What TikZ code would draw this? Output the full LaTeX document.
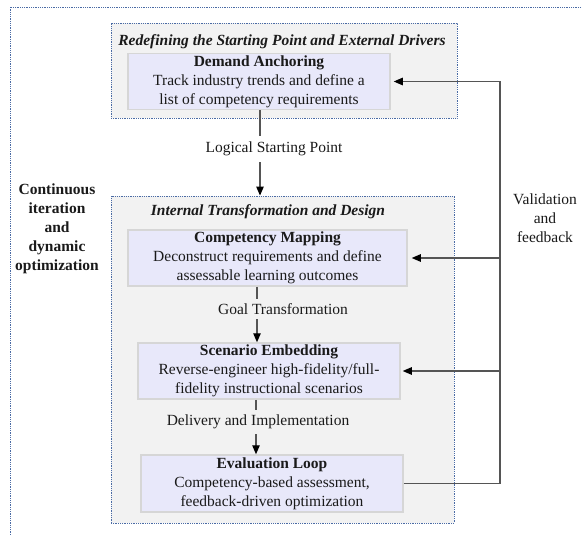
\documentclass[tikz,border=0pt]{standalone}
\usepackage{fontspec}
\setmainfont{Liberation Serif}
\usetikzlibrary{arrows.meta}
\definecolor{clfill}{HTML}{F2F2F2}
\definecolor{clborder}{HTML}{4A6BA5}
\definecolor{boxfill}{HTML}{E8E8FA}
\definecolor{boxborder}{HTML}{D6D6D6}
\definecolor{edgecol}{HTML}{555555}
\definecolor{txt}{HTML}{1A1A1A}
\begin{document}
\begin{tikzpicture}[x=1pt,y=-1pt,
  every node/.style={font=\fontsize{15.5}{19}\selectfont, text=txt},
  clline/.style={draw=clborder, line width=0.9pt, dash pattern=on 0.9pt off 0.9pt},
  cluster/.style={clline, fill=clfill, inner sep=0pt},
  stagebox/.style={draw=boxborder, fill=boxfill, line width=1.5pt, align=center, inner sep=0pt, minimum height=56pt, minimum width=262pt},
  edge/.style={draw=edgecol, line width=1.1pt},
  arr/.style={edge, -{Triangle[length=9pt,width=7.5pt,color=black]}},
  elab/.style={inner xsep=2pt, inner ysep=6pt},
  cltitle/.style={font=\fontsize{15.5}{19}\selectfont\bfseries\itshape}
]
\useasboundingbox (0,0) rectangle (582,535);
\fill[white] (0,0) rectangle (582,535);
% outer frame
\draw[clline] (10,535) -- (10,7) -- (582,7);
% clusters
\node[cluster, minimum width=346pt, minimum height=95pt] (outer) at (284,70.5) {};
\node[cluster, minimum width=343pt, minimum height=327pt] (inner) at (282.5,359.5) {};
\node[cltitle] (t1) at (282,42) {Redefining the Starting Point and External Drivers};
\node[cltitle] (t2) at (268,212) {Internal Transformation and Design};
% stage boxes
\node[stagebox] (demand) at (259,81.5) {\textbf{Demand Anchoring}\\Track industry trends and define a\\list of competency requirements};
\node[stagebox, minimum width=279pt] (comp) at (267.5,258) {\textbf{Competency Mapping}\\Deconstruct requirements and define\\assessable learning outcomes};
\node[stagebox] (scen) at (269,371) {\textbf{Scenario Embedding}\\Reverse-engineer high-fidelity/full-\\fidelity instructional scenarios};
\node[stagebox, minimum height=57pt] (eval) at (272,483.5) {\textbf{Evaluation Loop}\\Competency-based assessment,\\feedback-driven optimization};
% side labels
\node[align=center, font=\fontsize{15.5}{19}\selectfont\bfseries] (cont) at (57,228.5) {Continuous\\iteration\\and\\dynamic\\optimization};
\node[align=center] (valid) at (545,218.5) {Validation\\and\\feedback};
% main flow
\coordinate (x1) at (260,0);
\coordinate (x2) at (257,0);
\coordinate (x3) at (256,0);
\draw[arr] (demand.south -| x1) -- (inner.north -| x1);
\node[elab, fill=white] (lsp) at (274,149) {Logical Starting Point};
\draw[arr] (comp.south -| x2) -- (scen.north -| x2);
\node[elab, fill=clfill, inner ysep=4pt] (goal) at (283,309) {Goal Transformation};
\draw[arr] (scen.south -| x3) -- (eval.north -| x3);
\node[elab, fill=clfill, inner ysep=5pt] (deliv) at (258,422) {Delivery and Implementation};
% feedback loop
\coordinate (fb) at (500,0);
\draw[arr, line join=miter] (eval.east) -- (eval.east -| fb) -- (demand.east -| fb) -- ([xshift=3pt]demand.east);
\draw[arr] (comp.east -| fb) -- ([xshift=4pt]comp.east);
\draw[arr] (scen.east -| fb) -- ([xshift=2pt]scen.east);
\end{tikzpicture}
\end{document}
